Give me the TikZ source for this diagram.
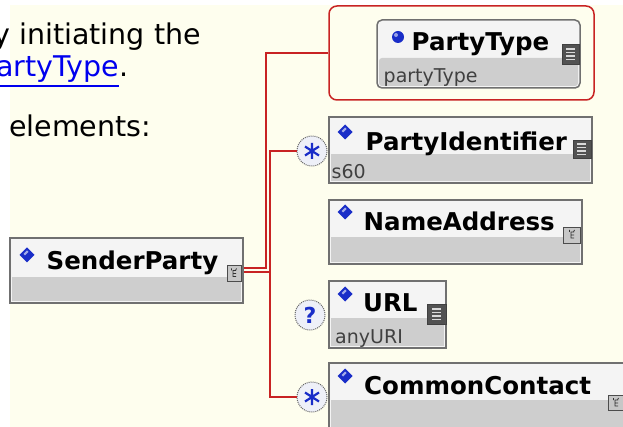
\documentclass[tikz,border=0pt]{standalone}
\usepackage{fontspec}
\setmainfont{DejaVu Sans}
\definecolor{cream}{RGB}{254,254,238}
\definecolor{linkred}{RGB}{200,35,35}
\definecolor{boxline}{RGB}{112,112,112}
\definecolor{toplight}{RGB}{244,244,244}
\definecolor{lowgray}{RGB}{206,206,206}
\definecolor{symblue}{RGB}{25,45,200}
\definecolor{linkblue}{RGB}{0,0,238}
\definecolor{circfill}{RGB}{238,240,248}
\tikzset{
  ebox/.style={draw=boxline, line width=1.5pt, fill=toplight, rectangle, inner sep=0},
  lowpart/.style={fill=lowgray},
  conn/.style={draw=linkred, line width=1.7pt},
  holder/.style={draw=linkred, line width=1.5pt, rounded corners=8pt, fill=cream, inner sep=0},
  namestyle/.style={inner sep=0, anchor=base west, font=\bfseries\fontsize{24.5}{24.5}\selectfont},
  typestyle/.style={inner sep=0, anchor=base west, text=black!75, font=\fontsize{19}{19}\selectfont},
  bodytext/.style={inner sep=0, font=\fontsize{28.5}{30}\selectfont},
  simpico/.style={draw=black!75, line width=0.6pt, fill=black!68, inner sep=0,
    path picture={
      \foreach \dy in {-5.5,-2,1.5,5}{
        \draw[black!15, line width=1.2pt] ([shift={(-5pt,\dy pt)}]path picture bounding box.center) -- ++(9pt,0pt);}
    }},
  cplxico/.style={draw=black!70, line width=0.8pt, fill=black!22, inner sep=0,
    path picture={
      \draw[black!80, line width=0.8pt] ([shift={(2pt,3pt)}]path picture bounding box.center) -- ++(-3pt,0pt) -- ++(0pt,-6pt) -- ++(3pt,0pt)
        ([shift={(-1pt,0pt)}]path picture bounding box.center) -- ++(3pt,0pt)
        ([shift={(-2.5pt,3pt)}]path picture bounding box.center) -- ++(0pt,2pt)
        ([shift={(1.5pt,3pt)}]path picture bounding box.center) -- ++(1pt,2pt);
    }},
  occ/.style={circle, draw=black!60, densely dotted, line width=1pt, fill=circfill, minimum size=30pt, inner sep=0},
  astr/.style={occ, path picture={
      \draw[symblue, solid, line width=2.2pt]
        ([shift={(0pt,8pt)}]path picture bounding box.center) -- ++(0pt,-16pt)
        ([shift={(-7pt,4.5pt)}]path picture bounding box.center) -- ++(14pt,-9pt)
        ([shift={(-7pt,-4.5pt)}]path picture bounding box.center) -- ++(14pt,9pt);
    }},
}
\newcommand\bdiam[2]{\fill[symblue] (#1,#2) +(0,-7.5) -- +(7.5,0) -- +(0,7.5) -- +(-7.5,0) -- cycle;
  \fill[white!60!symblue] (#1,#2) +(-3.5,-1) -- +(0,-4.5) -- +(1.5,-3) -- +(-2,0.5) -- cycle;}
\begin{document}
\begin{tikzpicture}[x=1pt,y=-1pt]
\useasboundingbox (0,0) rectangle (623,427);
\clip (0,0) rectangle (623,427);
\fill[white] (0,0) rectangle (623,427);
\fill[cream] (10,5) rectangle (623,427);

% body text
\node[bodytext, anchor=base east] (t1) at (201,45) {y initiating the};
\node[bodytext, anchor=base east, text=linkblue] (lnk) at (119,77) {artyType};
\node[bodytext, anchor=base west] (dot) at (lnk.base east) {.};
\draw[linkblue, line width=1.6pt] ([yshift=-9pt]lnk.base west) -- ([yshift=-9pt]lnk.base east);
\node[bodytext, anchor=base west] (t3) at (9,137) {elements:};

% SenderParty
\node[ebox, minimum width=233pt, minimum height=65pt] (sp) at (126.5,270.5) {};
\fill[lowpart] (12,277) rectangle (241,301);
\bdiam{27}{255}
\node[namestyle] (spt) at (46.5,270) {SenderParty};
\node[cplxico, minimum width=14pt, minimum height=16pt] (spi) at (234,273.5) {};

% PartyType container
\node[holder, minimum width=265pt, minimum height=94pt] (ptc) at (461.5,53) {};
\node[ebox, rounded corners=5pt, minimum width=203pt, minimum height=68pt] (pt) at (478.5,54) {};
\fill[lowpart, rounded corners=3pt] (379,58) rectangle (578,86);
\fill[symblue] (398,37) circle (6);
\fill[white!55!symblue] (396,35) circle (2);
\node[namestyle] (ptt) at (411.5,51) {PartyType};
\node[typestyle] (pts) at (383.5,83) {partyType};
\node[simpico, minimum width=17pt, minimum height=20pt] (pti) at (571,54) {};

% PartyIdentifier
\node[ebox, minimum width=263pt, minimum height=66pt] (pi) at (460.5,150) {};
\fill[lowpart] (331,154) rectangle (590,181);
\bdiam{345}{132}
\node[namestyle] (pit) at (365.5,151) {PartyIdentifier};
\node[typestyle] (pis) at (331.5,178.5) {s60};
\node[simpico, minimum width=18pt, minimum height=18pt] (pii) at (582,149) {};

% NameAddress
\node[ebox, minimum width=253pt, minimum height=64pt] (na) at (455.5,232) {};
\fill[lowpart] (331,237) rectangle (580,262);
\bdiam{345}{212}
\node[namestyle] (nat) at (363.5,231) {NameAddress};
\node[cplxico, minimum width=17pt, minimum height=16pt] (nai) at (572,235) {};

% URL
\node[ebox, minimum width=117pt, minimum height=67pt] (url) at (387.5,314.5) {};
\fill[lowpart] (331,318) rectangle (444,346);
\bdiam{345}{294}
\node[namestyle] (urlt) at (363,311) {URL};
\node[typestyle] (urls) at (335,343) {anyURI};
\node[simpico, minimum width=19pt, minimum height=20pt] (urli) at (437,314) {};

% CommonContact
\node[ebox, minimum width=321pt, minimum height=77pt] (cc) at (489.5,401.5) {};
\fill[lowpart] (331,400) rectangle (648,438);
\bdiam{345}{376}
\node[namestyle] (cct) at (364,394) {CommonContact};
\node[cplxico, minimum width=16pt, minimum height=15pt] (cci) at (616,403) {};

% occurrence circles
\node[astr] (c1) at (312,151) {};
\node[occ, text=symblue, font=\bfseries\fontsize{22}{22}\selectfont] (c2) at (310,315) {?};
\node[astr] (c3) at (312,397) {};

% connectors
\draw[conn] ([yshift=2.5pt]sp.east) -- ++(22pt,0pt) |- (ptc.west);
\draw[conn] ([yshift=-1.5pt]sp.east) -- ++(26pt,0pt) |- (c1.west);
\draw[conn] ([yshift=-1.5pt]sp.east) -- ++(26pt,0pt) |- (c3.west);
\end{tikzpicture}
\end{document}
